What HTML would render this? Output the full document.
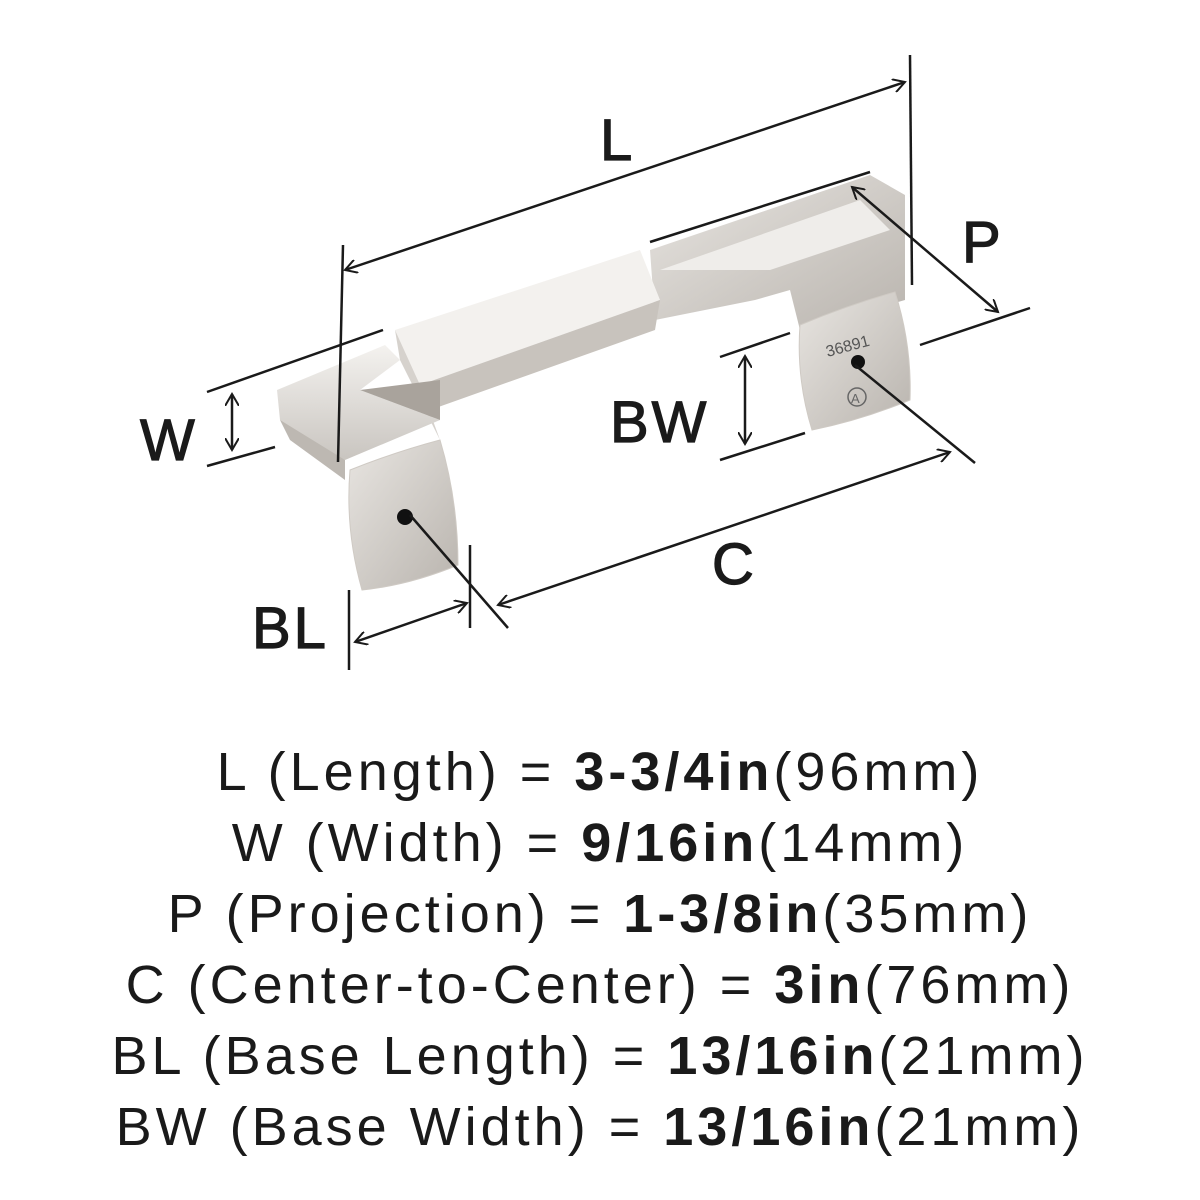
<!DOCTYPE html>
<html><head><meta charset="utf-8"><style>
html,body{margin:0;padding:0;background:#fff;}
body{width:1200px;height:1200px;position:relative;overflow:hidden;font-family:"Liberation Sans",sans-serif;color:#1a1a1a;}
.t{position:absolute;left:0;width:1200px;text-align:center;font-size:54px;letter-spacing:4px;line-height:60px;}
.t b{font-weight:bold;}
svg{position:absolute;left:0;top:0;}
.lbl{font-family:"Liberation Sans",sans-serif;font-size:58px;fill:#1a1a1a;stroke:#1a1a1a;stroke-width:1.2;letter-spacing:3px;}
</style></head><body>
<svg width="1200" height="700" viewBox="0 0 1200 700">
<defs>
<linearGradient id="g1" x1="0" y1="0" x2="0" y2="1"><stop offset="0" stop-color="#f4f2ef"/><stop offset="1" stop-color="#c9c5c0"/></linearGradient>
<linearGradient id="g2" x1="0" y1="0" x2="1" y2="1"><stop offset="0" stop-color="#e8e5e1"/><stop offset="1" stop-color="#b9b4ae"/></linearGradient>
<marker id="ah" markerWidth="14" markerHeight="14" refX="12" refY="7" orient="auto-start-reverse" markerUnits="userSpaceOnUse"><path d="M0,0 L12,7 L0,14" fill="none" stroke="#1a1a1a" stroke-width="2"/></marker>
</defs>
<polygon points="650,250 870,175 905,195 905,300 800,330 790,290 755,300 655,320" fill="url(#g2)"/>
<polygon points="660,270 860,200 890,230 770,270" fill="#efedea"/>
<polygon points="395,330 640,250 660,300 420,385" fill="#f3f1ee"/>
<polygon points="395,330 420,385 440,440 400,360" fill="#d6d2cd"/>
<polygon points="420,385 660,300 655,330 430,410" fill="#c8c3bd"/>
<polygon points="277,390 385,345 400,360 360,390 440,420 345,460 300,440 280,420" fill="url(#g1)"/>
<polygon points="360,390 440,380 440,420" fill="#a9a39c"/>
<polygon points="280,420 345,460 345,480 290,440" fill="#bdb8b2"/>
<path d="M350,470 Q395,452 440,440 Q458,500 458,565 Q410,585 362,590 Q345,530 350,470 Z" fill="url(#g2)" stroke="#cfcac4"/>
<circle cx="405" cy="517" r="8" fill="#111"/>
<path d="M800,325 Q848,305 895,292 Q912,345 910,400 Q862,420 812,430 Q796,378 800,325 Z" fill="url(#g2)" stroke="#cfcac4"/>
<circle cx="858" cy="362" r="7" fill="#111"/>
<text x="825" y="352" font-size="16" fill="#555" transform="rotate(-15 845 345)" font-family="Liberation Sans">36891</text>
<circle cx="857" cy="397" r="9" fill="none" stroke="#666" stroke-width="1.5"/>
<text x="851" y="403" font-size="13" fill="#666" font-family="Liberation Sans">A</text>
<g stroke="#1a1a1a" stroke-width="2.5" fill="none">
<line x1="910" y1="55" x2="912" y2="285"/>
<line x1="343" y1="245" x2="338" y2="462"/>
<line x1="345" y1="270" x2="905" y2="82" marker-start="url(#ah)" marker-end="url(#ah)"/>
<line x1="650" y1="242" x2="870" y2="172"/>
<line x1="920" y1="345" x2="1030" y2="308"/>
<line x1="852" y1="187" x2="998" y2="312" marker-start="url(#ah)" marker-end="url(#ah)"/>
<line x1="207" y1="392" x2="383" y2="330"/>
<line x1="207" y1="466" x2="275" y2="447"/>
<line x1="232" y1="394" x2="232" y2="450" marker-start="url(#ah)" marker-end="url(#ah)"/>
<line x1="720" y1="357" x2="790" y2="333"/>
<line x1="720" y1="460" x2="805" y2="433"/>
<line x1="745" y1="356" x2="745" y2="444" marker-start="url(#ah)" marker-end="url(#ah)"/>
<line x1="410" y1="515" x2="508" y2="628"/>
<line x1="855" y1="365" x2="975" y2="463"/>
<line x1="498" y1="605" x2="950" y2="452" marker-start="url(#ah)" marker-end="url(#ah)"/>
<line x1="349" y1="590" x2="349" y2="670"/>
<line x1="470" y1="545" x2="470" y2="628"/>
<line x1="355" y1="642" x2="467" y2="603" marker-start="url(#ah)" marker-end="url(#ah)"/>
</g>
<text class="lbl" x="600" y="160">L</text>
<text class="lbl" x="962" y="262">P</text>
<text class="lbl" x="140" y="460">W</text>
<text class="lbl" x="610" y="442">BW</text>
<text class="lbl" x="712" y="584">C</text>
<text class="lbl" x="252" y="648">BL</text>
</svg>
<div class="t" style="top:742px">L (Length) = <b>3-3/4in</b>(96mm)</div>
<div class="t" style="top:813px">W (Width) = <b>9/16in</b>(14mm)</div>
<div class="t" style="top:884px">P (Projection) = <b>1-3/8in</b>(35mm)</div>
<div class="t" style="top:955px">C (Center-to-Center) = <b>3in</b>(76mm)</div>
<div class="t" style="top:1026px">BL (Base Length) = <b>13/16in</b>(21mm)</div>
<div class="t" style="top:1097px">BW (Base Width) = <b>13/16in</b>(21mm)</div>
</body></html>
